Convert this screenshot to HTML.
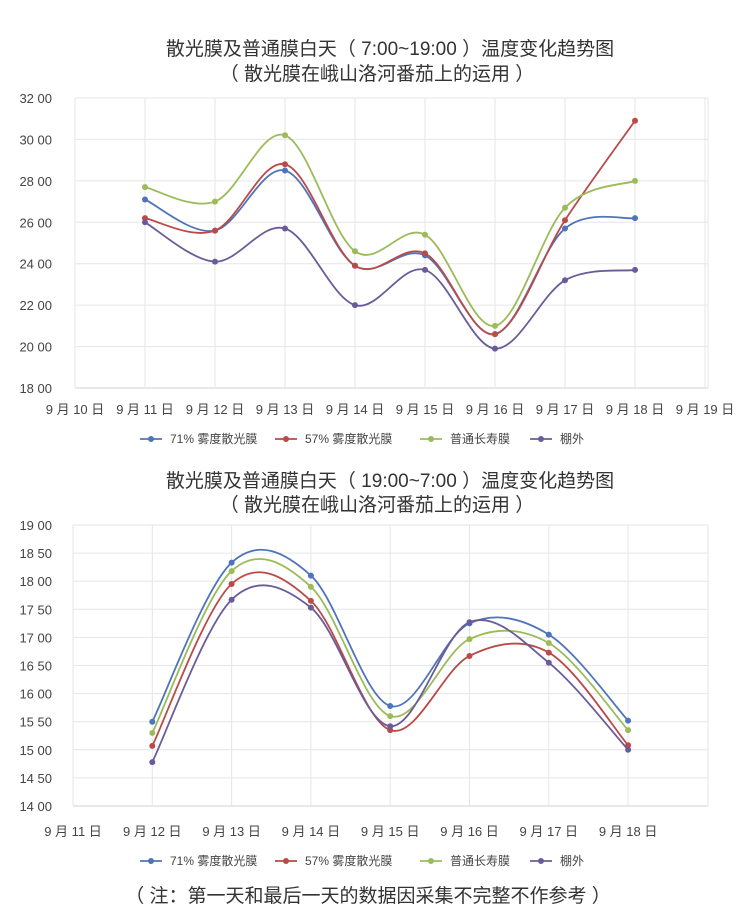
<!DOCTYPE html>
<html><head><meta charset="utf-8"><style>
html,body{margin:0;padding:0;background:#fff;}
svg{display:block;font-family:"Liberation Sans","Noto Sans CJK SC",sans-serif;}
</style></head><body>
<svg id="s" width="743" height="916" xmlns="http://www.w3.org/2000/svg">
<rect width="743" height="916" fill="#fff"/>
<text x="390" y="55" font-size="19" text-anchor="middle" fill="#333">散光膜及普通膜白天（ 7:00~19:00 ）温度变化趋势图</text>
<text x="377" y="80" font-size="19" text-anchor="middle" fill="#333">（ 散光膜在峨山洛河番茄上的运用 ）</text>
<text x="390" y="487" font-size="19" text-anchor="middle" fill="#333">散光膜及普通膜白天（ 19:00~7:00 ）温度变化趋势图</text>
<text x="377" y="511" font-size="19" text-anchor="middle" fill="#333">（ 散光膜在峨山洛河番茄上的运用 ）</text>
<text x="368" y="902" font-size="19" text-anchor="middle" fill="#333">（ 注：第一天和最后一天的数据因采集不完整不作参考 ）</text>
<g id="g"></g>
</svg>
<script>
var g=document.getElementById('g'),NS='http://www.w3.org/2000/svg';
function el(t,a,txt){var e=document.createElementNS(NS,t);for(var k in a)e.setAttribute(k,a[k]);if(txt)e.textContent=txt;g.appendChild(e);return e;}
var cols=['#4f74b9','#b94a48','#9bbb59','#6b5b98'];
var names=['71% 雾度散光膜','57% 雾度散光膜','普通长寿膜','棚外'];
function path(p){var d='M'+p[0][0]+','+p[0][1];for(var i=0;i<p.length-1;i++){var p0=p[i-1]||p[i],p1=p[i],p2=p[i+1],p3=p[i+2]||p2;var t=1/6;
d+=' C'+(p1[0]+(p2[0]-p0[0])*t)+','+(p1[1]+(p2[1]-p0[1])*t)+' '+(p2[0]-(p3[0]-p1[0])*t)+','+(p2[1]-(p3[1]-p1[1])*t)+' '+p2[0]+','+p2[1];}return d;}
function chart(o){
 var L=o.L,R=o.R,T=o.T,B=o.B;
 for(var i=0;i<=o.ny;i++){var v=o.ymin+i*o.ys,y=B-(v-o.ymin)/(o.ymax-o.ymin)*(B-T);
  el('line',{x1:L,x2:R,y1:y,y2:y,stroke:i==0?'#d0d0d0':'#e6e6e6','stroke-width':1});
  el('text',{x:o.lx,y:y+5,'font-size':13,'text-anchor':'end',fill:'#444'},o.lab(v));}
 for(var j=0;j<o.cats.length;j++){var x=o.x0+j*o.dx;
  if(x>L+2&&x<R-2)el('line',{x1:x,x2:x,y1:T,y2:B,stroke:'#e6e6e6','stroke-width':1});
  el('text',{x:x,y:o.cy,'font-size':13,'text-anchor':'middle',fill:'#444'},o.cats[j]);}
 el('line',{x1:L,x2:L,y1:T,y2:B,stroke:'#e6e6e6'});el('line',{x1:R,x2:R,y1:T,y2:B,stroke:'#e6e6e6'});
 o.data.forEach(function(ser,k){var p=ser.map(function(v,i){return [o.x0+(i+o.off)*o.dx,B-(v-o.ymin)/(o.ymax-o.ymin)*(B-T)];});
  el('path',{d:path(p),fill:'none',stroke:cols[k],'stroke-width':1.8});
  p.forEach(function(q){el('circle',{cx:q[0],cy:q[1],r:3,fill:cols[k]});});});
 var lx=[140,275,420,530];
 for(var k=0;k<4;k++){el('line',{x1:lx[k],x2:lx[k]+22,y1:o.ly,y2:o.ly,stroke:cols[k],'stroke-width':1.8});
  el('circle',{cx:lx[k]+11,cy:o.ly,r:3,fill:cols[k]});
  el('text',{x:lx[k]+30,y:o.ly+4,'font-size':12,fill:'#444'},names[k]);}
}
chart({L:75,R:708,T:98,B:388,ymin:18,ymax:32,ys:2,ny:7,lx:52,lab:function(v){return v+' 00';},
 x0:75,dx:70,off:1,cy:414,ly:439,
 cats:['9 月 10 日','9 月 11 日','9 月 12 日','9 月 13 日','9 月 14 日','9 月 15 日','9 月 16 日','9 月 17 日','9 月 18 日','9 月 19 日'],
 data:[[27.1,25.6,28.5,23.9,24.4,20.6,25.7,26.2],[26.2,25.6,28.8,23.9,24.5,20.6,26.1,30.9],[27.7,27.0,30.2,24.6,25.4,21.0,26.7,28.0],[26.0,24.1,25.7,22.0,23.7,19.9,23.2,23.7]]});
chart({L:73,R:708,T:525,B:806,ymin:14,ymax:19,ys:0.5,ny:10,lx:52,lab:function(v){var s=v.toFixed(2).split('.');return s[0]+' '+s[1];},
 x0:73,dx:79.3,off:1,cy:836,ly:861,
 cats:['9 月 11 日','9 月 12 日','9 月 13 日','9 月 14 日','9 月 15 日','9 月 16 日','9 月 17 日','9 月 18 日'],
 data:[[15.5,18.33,18.1,15.78,17.25,17.05,15.52],[15.07,17.95,17.65,15.35,16.67,16.73,15.08],[15.3,18.18,17.9,15.6,16.97,16.9,15.35],[14.78,17.67,17.53,15.42,17.27,16.55,15.0]]});
</script>
</body></html>
